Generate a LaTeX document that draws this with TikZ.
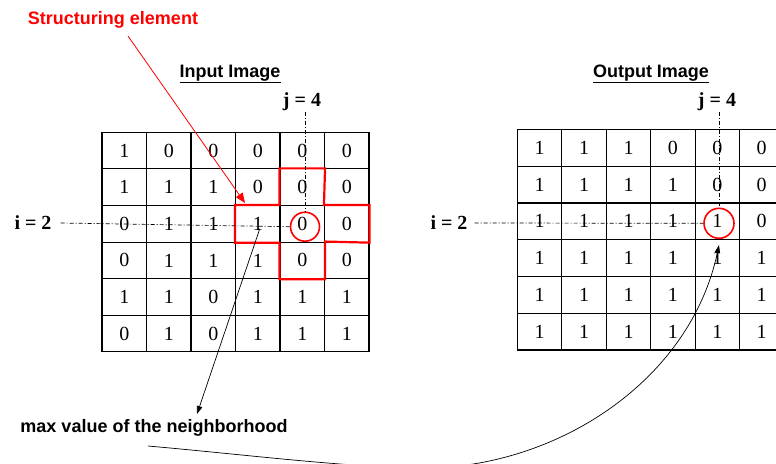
\documentclass[tikz,border=0pt]{standalone}
\usepackage{fontspec}
\setmainfont{Liberation Serif}
\newfontfamily\arialf{Liberation Sans}
\usetikzlibrary{arrows.meta,calc}
\begin{document}
\begin{tikzpicture}[x=1pt,y=-1pt,
  lcell/.style={draw=black, line width=1.1pt, minimum width=44.5pt, minimum height=36.6pt, inner sep=0pt, font=\fontsize{20}{20}\selectfont},
  rcell/.style={draw=black, line width=1.1pt, minimum width=44.4pt, minimum height=36.75pt, inner sep=0pt, font=\fontsize{20}{20}\selectfont},
  idx/.style={font=\bfseries\fontsize{20}{20}\selectfont, inner sep=0pt},
  title/.style={font=\arialf\bfseries\fontsize{18}{18}\selectfont, inner sep=0pt},
  dd/.style={black, line width=0.7pt, dash pattern=on 4pt off 2pt on 1pt off 2pt},
  ring/.style={draw=red, circle, line width=1.6pt, inner sep=0pt},
  blk/.style={black, line width=0.7pt, -{Triangle[length=8pt,width=5.5pt]}}
]
\useasboundingbox (0,0) rectangle (776,463);
\clip (0,0) rectangle (776,463);

% left grid
\foreach \row [count=\r from 0] in {{1,0,0,0,0,0},{1,1,1,0,0,0},{0,1,1,1,0,0},{0,1,1,1,0,0},{1,1,0,1,1,1},{0,1,0,1,1,1}}{
  \foreach \v [count=\c from 0] in \row {
    \node[lcell] (L\r\c) at ({102+44.5*(\c+0.5)},{132.3+36.6*(\r+0.5)}) {\v};
  }
}
% right grid
\foreach \row [count=\r from 0] in {{1,1,1,0,0,0},{1,1,1,1,0,0},{1,1,1,1,1,0},{1,1,1,1,1,1},{1,1,1,1,1,1},{1,1,1,1,1,1}}{
  \foreach \v [count=\c from 0] in \row {
    \node[rcell] (R\r\c) at ({517.5+44.4*(\c+0.5)},{129.5+36.75*(\r+0.5)}) {\v};
  }
}

% structuring element cross
\draw[red, line width=2.2pt, line join=miter]
  (L14.north west) -- (L14.north east) -- (L25.north west) -- (L25.north east)
  -- (L25.south east) -- (L34.north east) -- (L34.south east) -- (L34.south west)
  -- (L24.south west) -- (L23.south west) -- (L23.north west) -- (L24.north west) -- cycle;

% labels
\node[title, text=red] (se) at (113,20) {Structuring element};
\node[title] (inlab) at (230,74) {\underline{Input Image}};
\node[title] (outlab) at (651,74) {\underline{Output Image}};
\node[idx] (jl) at (302,102) {j = 4};
\node[idx] (il) at (33,223) {i = 2};
\node[idx] (jr) at (717,102) {j = 4};
\node[idx] (ir) at (449,223) {i = 2};
\node[title] (maxt) at (154,428) {max value of the neighborhood};

% rings
\node[ring, minimum size=29pt] (cl) at (305,226.7) {};
\node[ring, minimum size=30pt] (cr) at (719,223.3) {};

% dash-dot index lines
\draw[dd] ([xshift=9pt]il.east) -- (cl.west);
\draw[dd] ([yshift=-1pt]jl.south -| cl.north) -- (cl.north);
\draw[dd] ([xshift=7pt]ir.east) -- (cr.west);
\draw[dd] ([yshift=-1pt]jr.south -| cr.north) -- (cr.north);

% red arrow from label to structuring element
\coordinate (sestart) at (128,36);
\coordinate (setip) at (245,203);
\draw[red, line width=0.8pt, -{Triangle[length=10pt,width=8pt]}] (sestart) -- (setip);

% black arrow to the text
\coordinate (mstart) at ($(L23.center)+(2,5)$);
\coordinate (mtip) at (197,414);
\draw[blk] (mstart) -- (mtip);

% curve from the text to the output pixel
\coordinate (cstart) at (148,446);
\draw[blk] (cstart) .. controls (250,455) and (350,468) .. (430,468)
  .. controls (560,465) and (690,380) .. ([yshift=-6pt]cr.south);
\end{tikzpicture}
\end{document}
